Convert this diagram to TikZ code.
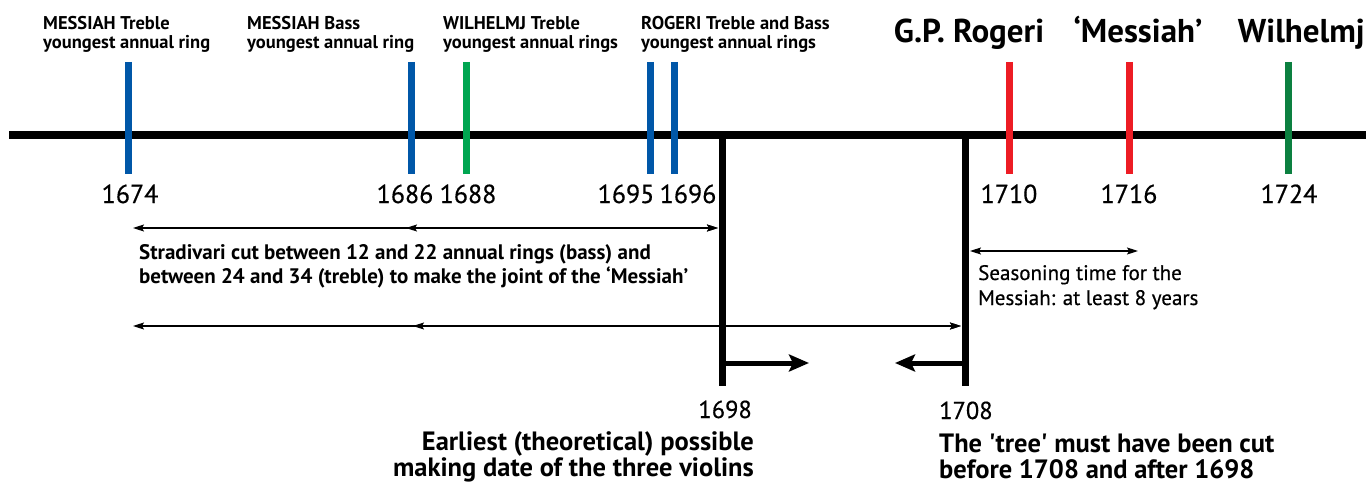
\documentclass[tikz,border=0pt]{standalone}
\usepackage{fontspec}
\setmainfont{PT Sans}
\newfontfamily\medfont[FakeBold=0.5]{PT Sans}
\usetikzlibrary{arrows.meta}
\definecolor{ringblue}{RGB}{0,87,168}
\definecolor{ringgreen}{RGB}{0,166,81}
\definecolor{ringred}{RGB}{237,28,36}
\definecolor{ringdkgreen}{RGB}{12,128,64}
\begin{document}
\begin{tikzpicture}[x=1pt,y=-1pt,
  ringmark/.style={line width=7pt},
  axisline/.style={line width=8pt},
  cutline/.style={line width=7pt},
  thinarrow/.style={line width=1.1pt,{Stealth[length=11pt,width=7pt,inset=2pt]}-{Stealth[length=11pt,width=7pt,inset=2pt]}},
  thickarrow/.style={line width=5pt,-{Stealth[length=20pt,width=17pt,inset=4pt]}},
  toplbl/.style={inner sep=0pt,anchor=base west,align=left,font=\bfseries\fontsize{18.5}{20}\selectfont},
  namelbl/.style={inner sep=0pt,font=\bfseries\fontsize{33}{36}\selectfont},
  yearlbl/.style={inner sep=0pt,anchor=base,font=\medfont\fontsize{26}{30}\selectfont},
  notelbl/.style={inner sep=0pt,anchor=base west,align=left,font=\bfseries\fontsize{21}{24}\selectfont},
  seaslbl/.style={inner sep=0pt,anchor=base west,align=left,font=\medfont\fontsize{21}{25}\selectfont},
  botyear/.style={inner sep=0pt,font=\medfont\fontsize{24.5}{28}\selectfont},
  botlbl/.style={inner sep=0pt,font=\bfseries\fontsize{26.5}{26}\selectfont}]
\useasboundingbox (0,0) rectangle (1366,487);

% timeline
\coordinate (ax0) at (9,135);
\coordinate (ax1) at (1366,135);
\draw[axisline] (ax0) -- (ax1);

% annual ring marks and years
\foreach \nm/\xx/\col/\yx in {1674/128/ringblue/130, 1686/411/ringblue/405, 1688/466/ringgreen/468,
  1695/650/ringblue/626, 1696/674/ringblue/688, 1710/1009/ringred/1009, 1716/1129/ringred/1129,
  1724/1288/ringdkgreen/1289}{
  \coordinate (m\nm t) at (\xx,62);
  \coordinate (m\nm b) at (\xx,174);
  \draw[ringmark,\col] (m\nm t) -- (m\nm b);
  \node[yearlbl] (y\nm) at (\yx,203) {\nm};
}

% top labels (base = last line)
\node[toplbl] (l1) at (43,49) {MESSIAH Treble\\youngest annual ring};
\node[toplbl] (l2) at (247,49) {MESSIAH Bass\\youngest annual ring};
\node[toplbl] (l3) at (443,49) {WILHELMJ Treble\\youngest annual rings};
\node[toplbl] (l4) at (641,49) {ROGERI Treble and Bass\\youngest annual rings};
\node[namelbl,anchor=base] (n1) at (969,43) {G.P. Rogeri};
\node[namelbl,anchor=base] (n2) at (1138,43) {‘Messiah’};
\node[namelbl,anchor=base east] (n3) at (1365,43) {Wilhelmj};

% cut lines
\coordinate (c1t) at (722,131);
\coordinate (c1b) at (722,386);
\coordinate (c2t) at (965,131);
\coordinate (c2b) at (965,386);
\draw[cutline] (c1t) -- (c1b);
\draw[cutline] (c2t) -- (c2b);

% thin arrows
\coordinate (a1l) at (133,228);
\coordinate (a1m) at (406,228);
\coordinate (a1r) at (718,228);
\draw[thinarrow] (a1l) -- (a1r);
\draw[thinarrow] (a1m) -- (a1r);
\coordinate (a2l) at (133,326);
\coordinate (a2m) at (413,326);
\coordinate (a2r) at (961,326);
\draw[thinarrow] (a2l) -- (a2r);
\draw[thinarrow] (a2m) -- (a2r);
\coordinate (s1) at (970,251);
\coordinate (s2) at (1138,251);
\draw[thinarrow] (s1) -- (s2);

% thick arrows
\coordinate (k1s) at (719,363);
\coordinate (k1e) at (809,363);
\coordinate (k2s) at (968,363);
\coordinate (k2e) at (895,363);
\draw[thickarrow] (k1s) -- (k1e);
\draw[thickarrow] (k2s) -- (k2e);

% notes (base = last line)
\node[notelbl] (t1) at (139,283) {Stradivari cut between 12 and 22 annual rings (bass) and\\between 24 and 34 (treble) to make the joint of the ‘Messiah’};
\node[seaslbl] (t2) at (978,305) {Seasoning time for the\\Messiah: at least 8 years};

% bottom
\node[botyear,anchor=base east] (b1) at (752,418) {1698};
\node[botlbl,anchor=base east,align=right] (b2) at (754,476) {Earliest (theoretical) possible\\making date of the three violins};
\node[botyear,anchor=base west] (b3) at (939,419) {1708};
\node[botlbl,anchor=base west,align=left] (b4) at (939,478) {The \textquotesingle tree\textquotesingle\ must have been cut\\before 1708 and after 1698};
\end{tikzpicture}
\end{document}
